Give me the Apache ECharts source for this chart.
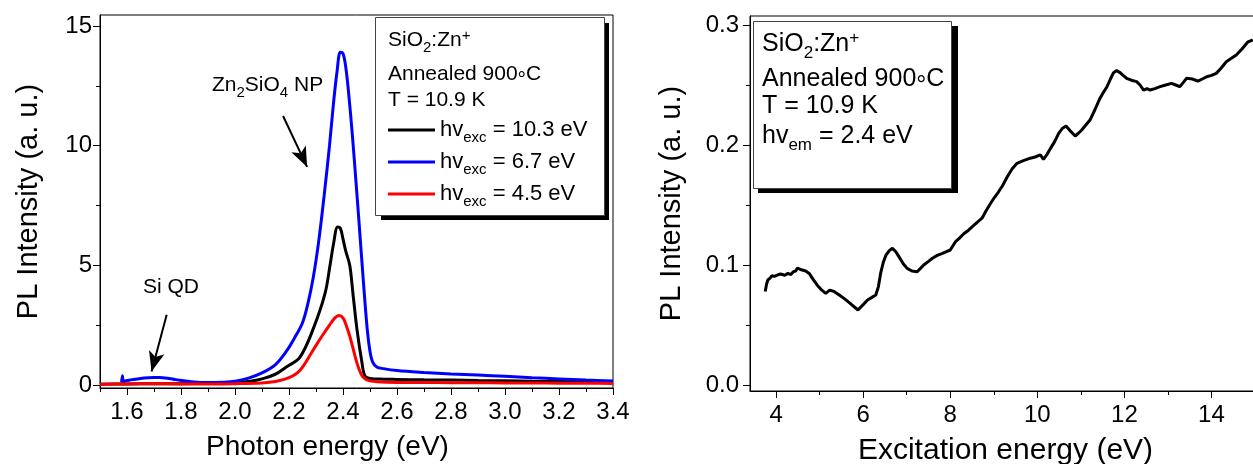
<!DOCTYPE html>
<html>
<head>
<meta charset="utf-8">
<script src="https://cdn.jsdelivr.net/npm/echarts@6/dist/echarts.min.js"></script>
<style>
html,body{margin:0;padding:0;background:#fff;}
#c{width:1253px;height:464px;}
</style>
</head>
<body>
<div id="c"></div>
<script>
// ---------- Left panel: PL spectra ----------
const energyBlack = [1.50,1.60,1.70,1.80,1.90,2.00,2.056,2.10,2.15,2.19,2.24,2.29,2.333,2.352,2.365,2.38,2.39,2.40,2.41,2.425,2.437,2.452,2.47,2.481,2.50,2.55,2.60,2.70,2.80,2.90,3.00,3.10,3.20,3.30,3.40];
const plBlack     = [0.03,0.04,0.05,0.05,0.07,0.10,0.15,0.25,0.45,0.75,1.15,2.35,3.80,5.00,5.90,6.60,6.55,6.10,5.60,5.00,3.80,2.30,0.95,0.38,0.27,0.24,0.23,0.21,0.20,0.18,0.17,0.15,0.14,0.13,0.12];

const energyBlue = [1.580,1.583,1.586,1.590,1.600,1.620,1.650,1.680,1.700,1.720,1.750,1.780,1.810,1.840,1.870,1.900,1.950,2.000,2.050,2.100,2.150,2.190,2.220,2.250,2.270,2.290,2.310,2.330,2.350,2.365,2.378,2.390,2.400,2.410,2.420,2.435,2.450,2.460,2.475,2.490,2.500,2.510,2.525,2.550,2.600,2.700,2.800,2.900,3.000,3.100,3.200,3.300,3.400];
const plBlue     = [0.10,0.38,0.12,0.16,0.18,0.22,0.27,0.30,0.31,0.31,0.28,0.22,0.17,0.13,0.10,0.10,0.11,0.15,0.28,0.50,0.85,1.40,1.95,2.60,3.40,4.50,6.00,7.90,10.00,11.80,13.10,13.90,13.85,13.30,12.30,10.40,8.20,6.70,4.40,2.30,1.40,0.95,0.75,0.68,0.60,0.52,0.46,0.41,0.36,0.30,0.25,0.20,0.16];

const energyRed = [1.50,1.60,1.70,1.80,1.90,2.00,2.10,2.15,2.20,2.24,2.289,2.32,2.35,2.37,2.385,2.40,2.413,2.426,2.44,2.452,2.465,2.474,2.49,2.526,2.60,2.70,2.80,2.90,3.00,3.10,3.20,3.30,3.40];
const plRed     = [0.03,0.04,0.05,0.04,0.04,0.05,0.08,0.14,0.30,0.60,1.45,2.00,2.50,2.80,2.90,2.80,2.45,2.00,1.40,0.90,0.50,0.33,0.20,0.13,0.10,0.10,0.09,0.09,0.08,0.08,0.07,0.07,0.06];

const seriesNamesLeft = ['hv_exc = 10.3 eV', 'hv_exc = 6.7 eV', 'hv_exc = 4.5 eV'];

// ---------- Right panel: PLE spectrum ----------
const excEnergy = [3.75,3.78,3.81,3.86,3.90,3.96,4.04,4.10,4.20,4.27,4.34,4.40,4.45,4.49,4.53,4.58,4.62,4.68,4.76,4.85,4.95,5.05,5.14,5.23,5.33,5.45,5.56,5.70,5.88,6.00,6.10,6.20,6.29,6.35,6.40,6.46,6.52,6.60,6.67,6.75,6.82,6.92,7.01,7.12,7.24,7.31,7.39,7.50,7.59,7.70,7.82,7.90,8.00,8.12,8.20,8.31,8.42,8.54,8.63,8.73,8.82,8.92,9.01,9.11,9.20,9.31,9.42,9.53,9.68,9.84,9.95,10.07,10.14,10.22,10.30,10.40,10.49,10.58,10.66,10.75,10.87,10.95,11.02,11.10,11.21,11.33,11.44,11.52,11.60,11.68,11.75,11.82,11.90,11.97,12.05,12.16,12.28,12.36,12.44,12.52,12.59,12.70,12.82,12.95,13.08,13.18,13.27,13.35,13.43,13.56,13.69,13.79,13.89,14.00,14.11,14.22,14.34,14.45,14.57,14.70,14.84,14.95];
const pleIntensity = [0.078,0.084,0.0875,0.089,0.091,0.0905,0.0917,0.0925,0.0915,0.093,0.092,0.0945,0.095,0.0975,0.0986,0.096,0.097,0.095,0.093,0.088,0.083,0.079,0.0764,0.079,0.078,0.075,0.0722,0.068,0.0625,0.067,0.0708,0.073,0.075,0.082,0.093,0.102,0.108,0.112,0.114,0.111,0.107,0.101,0.0972,0.095,0.0944,0.097,0.100,0.103,0.1056,0.108,0.1097,0.111,0.1125,0.1194,0.122,0.126,0.129,0.133,0.136,0.139,0.145,0.151,0.156,0.161,0.166,0.1736,0.180,0.1847,0.187,0.189,0.190,0.1917,0.188,0.192,0.197,0.203,0.2097,0.214,0.2158,0.212,0.2075,0.210,0.2125,0.216,0.2208,0.230,0.239,0.244,0.2486,0.255,0.2603,0.262,0.2603,0.258,0.2556,0.254,0.2528,0.250,0.2458,0.247,0.2458,0.247,0.2486,0.250,0.2514,0.250,0.2486,0.252,0.2556,0.255,0.2533,0.255,0.2569,0.258,0.2597,0.264,0.2694,0.272,0.275,0.280,0.286,0.2875];

// ---------- Ticks ----------
const leftXMajor  = [1.6,1.8,2.0,2.2,2.4,2.6,2.8,3.0,3.2,3.4];
const leftXMinor  = [1.5,1.7,1.9,2.1,2.3,2.5,2.7,2.9,3.1,3.3];
const leftYMajor  = [0,5,10,15];
const leftYMinor  = [2.5,7.5,12.5];
const rightXMajor = [4,6,8,10,12,14];
const rightXMinor = [5,7,9,11,13];
const rightYMajor = [0.0,0.1,0.2,0.3];
const rightYMinor = [0.05,0.15,0.25];

// ---------- Annotation anchors (data coordinates) ----------
const arrowZn = [[2.178, 11.24], [2.267, 9.11]];
const arrowSi = [[1.747, 2.93], [1.691, 0.56]];

const FONT = '"Liberation Sans", Arial, Helvetica, sans-serif';
const TICK_FS = 24, TITLE_FS = 29;
const COLORS = ['#000000', '#0000ff', '#ff0000'];

function pairs(xs, ys) { return xs.map((x, i) => [x, ys[i]]); }

function majorX(grid, min, max, ticks, fmt, name, namePad, nameFs) {
  return {
    type: 'value', gridIndex: grid, min: min, max: max, position: 'bottom',
    axisLine: { show: true, onZero: false, lineStyle: { color: '#000', width: 1 } },
    axisTick: { show: true, inside: false, length: 7, customValues: ticks, lineStyle: { color: '#000', width: 1 } },
    axisLabel: { show: true, customValues: ticks, formatter: fmt, fontSize: TICK_FS, fontFamily: FONT, color: '#000', margin: 12 },
    splitLine: { show: false },
    name: name, nameLocation: 'middle', nameGap: 45,
    nameTextStyle: { fontSize: nameFs, fontFamily: FONT, color: '#000', padding: namePad }
  };
}
function minorX(grid, min, max, ticks) {
  return {
    type: 'value', gridIndex: grid, min: min, max: max, position: 'bottom',
    axisLine: { show: false, onZero: false },
    axisTick: { show: true, inside: false, length: 4, customValues: ticks, lineStyle: { color: '#000', width: 1 } },
    axisLabel: { show: false }, splitLine: { show: false }
  };
}
function majorY(grid, min, max, ticks, fmt, name, gap, margin) {
  return {
    type: 'value', gridIndex: grid, min: min, max: max, position: 'left',
    axisLine: { show: true, onZero: false, lineStyle: { color: '#000', width: 1 } },
    axisTick: { show: true, inside: false, length: 7, customValues: ticks, lineStyle: { color: '#000', width: 1 } },
    axisLabel: { show: true, customValues: ticks, formatter: fmt, fontSize: TICK_FS, fontFamily: FONT, color: '#000', margin: margin },
    splitLine: { show: false },
    name: name, nameLocation: 'middle', nameRotate: 90, nameGap: gap,
    nameTextStyle: { fontSize: TITLE_FS, fontFamily: FONT, color: '#000' }
  };
}
function minorY(grid, min, max, ticks) {
  return {
    type: 'value', gridIndex: grid, min: min, max: max, position: 'left',
    axisLine: { show: false, onZero: false },
    axisTick: { show: true, inside: false, length: 4, customValues: ticks, lineStyle: { color: '#000', width: 1 } },
    axisLabel: { show: false }, splitLine: { show: false }
  };
}

function richStyles(fs, subFs) {
  return {
    a: { fontSize: fs, fontFamily: FONT, fill: '#000', color: '#000', lineHeight: fs + 4 },
    b: { fontSize: subFs, fontFamily: FONT, fill: '#000', color: '#000', lineHeight: fs + 4, padding: [Math.round(fs * 0.7), 0, 0, 0] },
    c: { fontSize: subFs, fontFamily: FONT, fill: '#000', color: '#000', lineHeight: fs + 4, padding: [0, 0, Math.round(fs * 0.45), 0] },
    d: { fontSize: fs, fontFamily: FONT, fill: '#000', color: '#000', lineHeight: fs + 4, padding: [Math.round(fs * 0.5), 0, 0, 0] }
  };
}

function gText(x, yCenter, text, fs, subFs) {
  return {
    type: 'text', x: x, y: yCenter, z: 12,
    style: { text: text, fontSize: fs, fontFamily: FONT, fill: '#000', align: 'left', verticalAlign: 'middle', rich: richStyles(fs, subFs) }
  };
}

const legendTops = [115, 147, 179];
const legends = seriesNamesLeft.map((n, i) => ({
  data: [n], orient: 'vertical', left: 388, top: legendTops[i], padding: 0, z: 20,
  icon: 'rect', itemWidth: 47, itemHeight: 3, itemGap: 0, selectedMode: false,
  formatter: nm => '{a|hv}{b|exc}{a|' + nm.slice(6) + '}',
  textStyle: { fontSize: 22, fontFamily: FONT, color: '#000', rich: richStyles(22, 15) }
}));

const option = {
  animation: false,
  backgroundColor: '#ffffff',
  grid: [
    { left: 100, top: 15, width: 513, height: 373, show: true, borderColor: '#000', borderWidth: 1, backgroundColor: 'transparent', containLabel: false, outerBoundsMode: 'none' },
    { left: 750, top: 16, width: 505, height: 375, show: true, borderColor: '#000', borderWidth: 1, backgroundColor: 'transparent', containLabel: false, outerBoundsMode: 'none' }
  ],
  xAxis: [
    majorX(0, 1.5, 3.4, leftXMajor, v => v.toFixed(1), 'Photon energy (eV)', [0, 58, 0, 0], 28),
    minorX(0, 1.5, 3.4, leftXMinor),
    majorX(1, 3.4, 15, rightXMajor, v => String(v), 'Excitation energy (eV)', [0, 0, 0, 6], 30),
    minorX(1, 3.4, 15, rightXMinor)
  ],
  yAxis: [
    majorY(0, -0.13, 15.46, leftYMajor, v => String(v), 'PL Intensity (a. u.)', 57, 8),
    minorY(0, -0.13, 15.46, leftYMinor),
    majorY(1, -0.005, 0.3075, rightYMajor, v => v.toFixed(1), 'PL Intensity (a. u.)', 64, 11),
    minorY(1, -0.005, 0.3075, rightYMinor)
  ],
  legend: legends,
  series: [
    { name: seriesNamesLeft[0], type: 'line', xAxisIndex: 0, yAxisIndex: 0, data: pairs(energyBlack, plBlack),
      showSymbol: false, smooth: 0.35, color: COLORS[0], lineStyle: { color: COLORS[0], width: 3 }, z: 2 },
    { name: seriesNamesLeft[1], type: 'line', xAxisIndex: 0, yAxisIndex: 0, data: pairs(energyBlue, plBlue),
      showSymbol: false, smooth: 0.35, color: COLORS[1], lineStyle: { color: COLORS[1], width: 3 }, z: 3,
      markLine: {
        silent: true, symbol: ['none', 'arrow'], symbolSize: [12, 20], precision: 3,
        label: { show: false }, lineStyle: { color: '#000', width: 2, type: 'solid' }, emphasis: { disabled: true },
        data: [
          [{ coord: arrowZn[0] }, { coord: arrowZn[1] }],
          [{ coord: arrowSi[0] }, { coord: arrowSi[1] }]
        ]
      } },
    { name: seriesNamesLeft[2], type: 'line', xAxisIndex: 0, yAxisIndex: 0, data: pairs(energyRed, plRed),
      showSymbol: false, smooth: 0.35, color: COLORS[2], lineStyle: { color: COLORS[2], width: 3 }, z: 4 },
    { name: 'PLE', type: 'line', xAxisIndex: 2, yAxisIndex: 2, data: pairs(excEnergy, pleIntensity),
      showSymbol: false, color: '#000', lineStyle: { color: '#000', width: 3 }, z: 2 }
  ],
  graphic: { elements: [
    // left info box (shadow + box)
    { type: 'rect', z: 10, shape: { x: 381, y: 23, width: 228, height: 197 }, style: { fill: '#000' } },
    { type: 'rect', z: 11, shape: { x: 375.5, y: 17.5, width: 229, height: 198 }, style: { fill: '#fff', stroke: '#444', lineWidth: 1 } },
    gText(388, 40.7, '{a|SiO}{b|2}{a|:Zn}{c|+}', 21, 15),
    gText(388, 74.7, '{a|Annealed 900}{d|°}{a|C}', 21, 15),
    gText(388, 100.7, '{a|T = 10.9 K}', 21, 15),
    // right info box
    { type: 'rect', z: 10, shape: { x: 758, y: 26, width: 200, height: 167 }, style: { fill: '#000' } },
    { type: 'rect', z: 11, shape: { x: 753.5, y: 21.5, width: 198, height: 167 }, style: { fill: '#fff', stroke: '#444', lineWidth: 1 } },
    gText(762, 44.3, '{a|SiO}{b|2}{a|:Zn}{c|+}', 25, 17),
    gText(762, 79.3, '{a|Annealed 900}{d|°}{a|C}', 25, 17),
    gText(762, 106.3, '{a|T = 10.9 K}', 25, 17),
    gText(762, 136.3, '{a|hv}{b|em}{a| = 2.4 eV}', 25, 17),
    // annotations
    gText(212, 85.7, '{a|Zn}{b|2}{a|SiO}{b|4}{a| NP}', 21, 15),
    gText(143, 287.7, '{a|Si QD}', 21, 15)
  ] }
};

const chart = echarts.init(document.getElementById('c'), null, { renderer: 'canvas' });
chart.setOption(option);
</script>
</body>
</html>
